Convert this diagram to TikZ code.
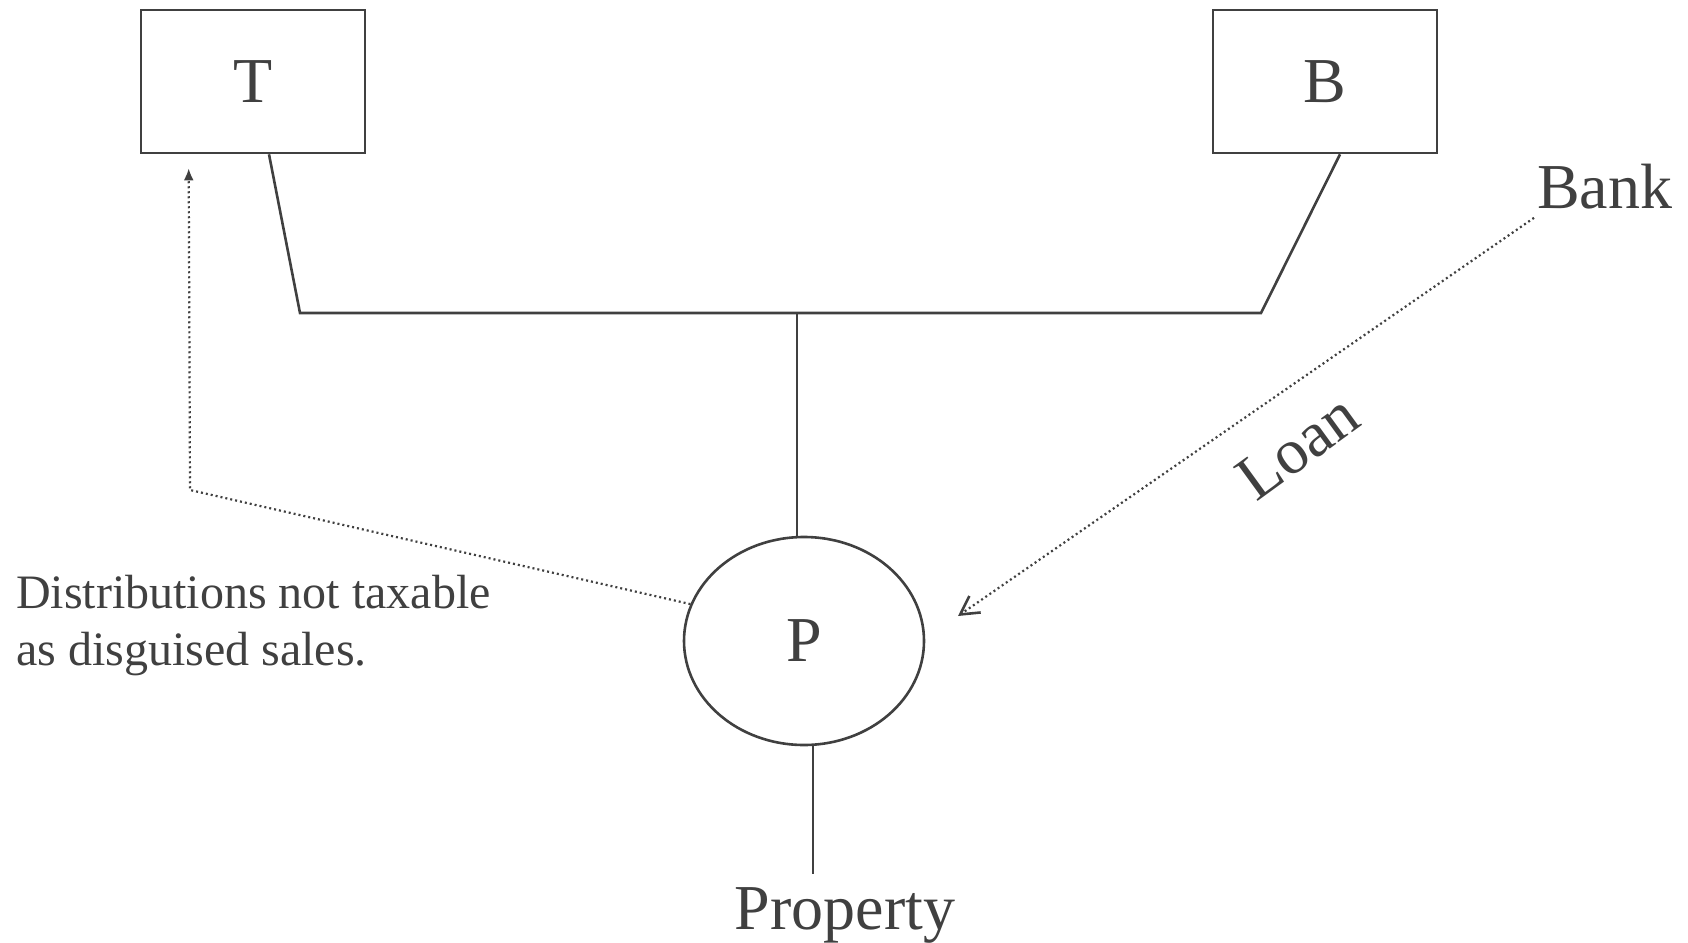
\documentclass[tikz,border=0pt]{standalone}
\usepackage{fontspec}
\setmainfont{Liberation Serif}
\usetikzlibrary{shapes.geometric,arrows.meta,calc}
\definecolor{ink}{HTML}{404040}
\begin{document}
\begin{tikzpicture}[x=1pt,y=-1pt,
  every node/.style={text=ink},
  solid line/.style={draw=ink,line width=2.6pt},
  dot line/.style={draw=ink,line width=2.2pt,dash pattern=on 2pt off 3pt},
  partner/.style={solid line,rectangle,minimum width=224pt,minimum height=143pt,inner sep=0pt,
    font=\fontsize{64}{70}\selectfont},
  entity/.style={solid line,ellipse,minimum width=240pt,minimum height=208pt,inner sep=0pt,
    font=\fontsize{64}{70}\selectfont},
  bigtext/.style={inner sep=0pt,font=\fontsize{64}{70}\selectfont},
  note/.style={inner sep=0pt,align=left,font=\fontsize{48}{57}\selectfont}]
\useasboundingbox (0,0) rectangle (1688,942);

% partners and partnership
\node[partner] (T) at (253,81.5) {T};
\node[partner] (B) at (1325,81.5) {B};
\node[entity] (P) at (804,641) {P};

% labels
\node[bigtext,anchor=base west] (bank) at (1537,208) {Bank};
\node[bigtext] (prop) at (845,915) {Property};
\node[bigtext,rotate=36] (loan) at (1298,447) {Loan};
\node[note,anchor=north west] (dist) at (16,575) {Distributions not taxable\\as disguised sales.};

% ownership structure
\coordinate (tfoot) at (300,313);
\coordinate (bfoot) at (1261,313);
\coordinate (mid) at (797,313);
\draw[solid line] ($(T.south)+(16,0)$) -- (tfoot) -- (bfoot) -- ($(B.south)+(15,0)$);
\draw[solid line] (mid) -- (P.north -| mid);
\draw[solid line] (P.south -| prop.north) ++(-32,0) coordinate (pfoot) -- ($(prop.north)+(-32,-13)$);

% loan from the bank
\coordinate (loanend) at (958,616);
\draw[dot line,-{Straight Barb[length=18pt,width=20pt,line width=2.6pt]}]
  ($(bank.south west)+(-3,9)$) -- (loanend);

% distribution to T
\coordinate (bend) at (190,490);
\draw[dot line,-{Latex[length=12pt,width=10pt]}]
  (P.162) -- (bend) -- ($(T.south west)+(49,14)$);
\end{tikzpicture}
\end{document}
